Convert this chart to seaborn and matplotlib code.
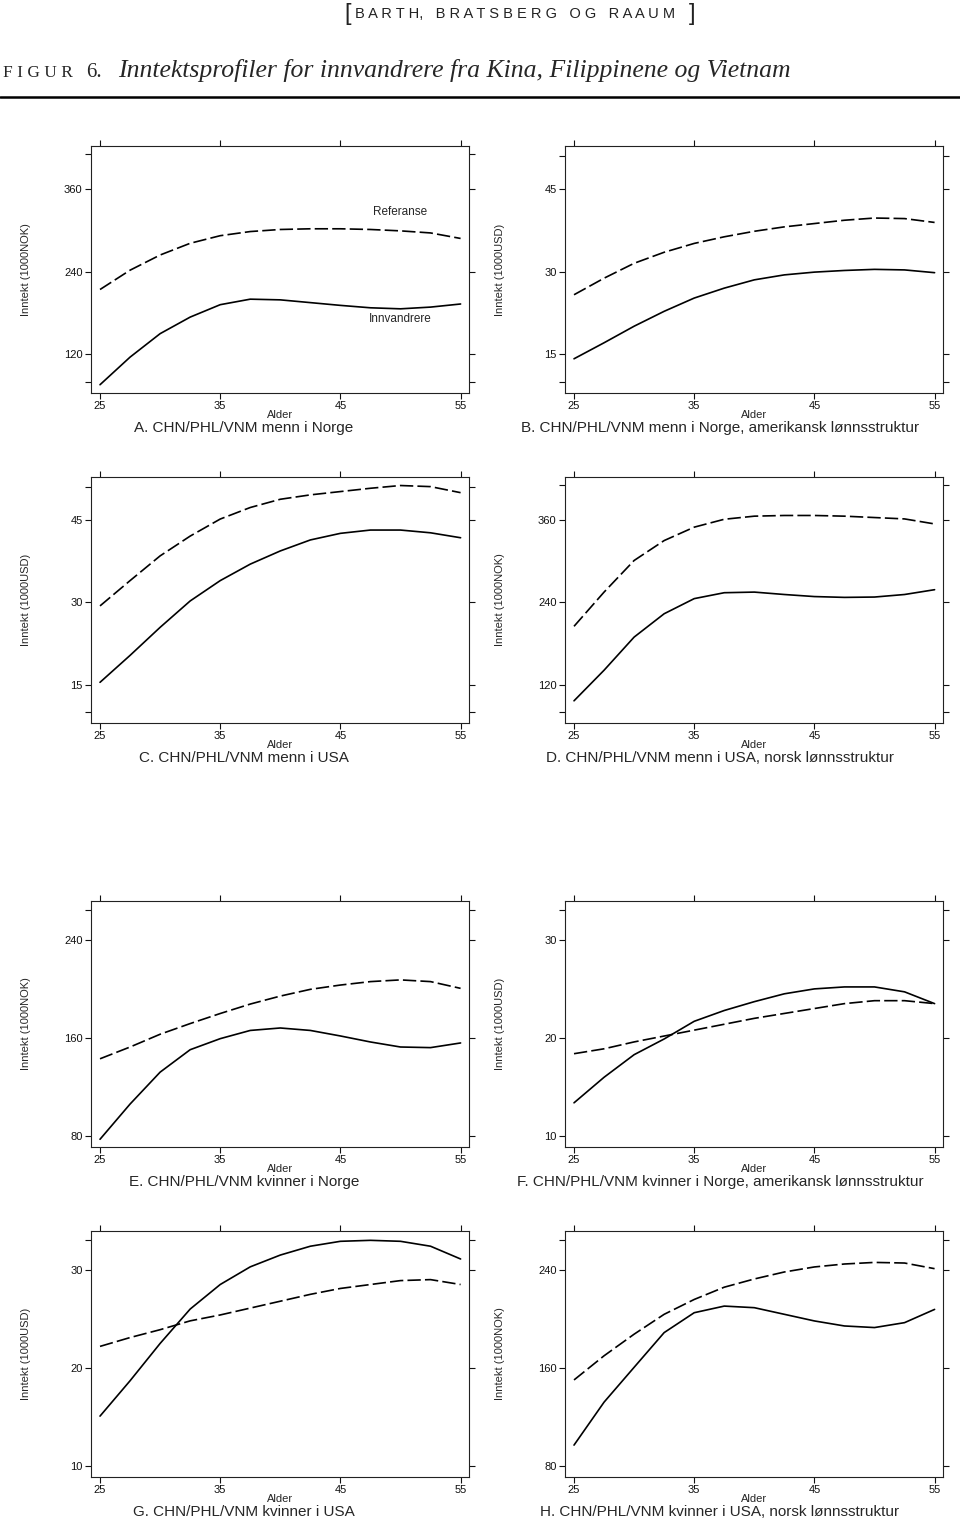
import matplotlib
matplotlib.use("Agg")
import matplotlib.pyplot as plt
from matplotlib.lines import Line2D
import pandas as pd
import seaborn as sns

sns.set_theme(style="ticks", rc={"axes.linewidth": 0.8, "axes.edgecolor": "#222222",
                                 "xtick.major.size": 4, "ytick.major.size": 4,
                                 "xtick.major.width": 0.8, "ytick.major.width": 0.8})
plt.rcParams['font.family'] = ['Liberation Sans', 'DejaVu Sans']

# ages (Alder)
ages = [25, 27.5, 30, 32.5, 35, 37.5, 40, 42.5, 45, 47.5, 50, 52.5, 55]

# referanse (dashed) and innvandrere (solid)
a_ref = [214, 242, 264, 281, 292, 298, 301, 302, 302, 301, 299, 296, 288]
a_imm = [76, 116, 150, 174, 192, 200, 199, 195, 191, 187.5, 186, 188.5, 193]
b_ref = [25.8, 28.8, 31.5, 33.5, 35.1, 36.3, 37.3, 38.1, 38.7, 39.3, 39.7, 39.6, 38.9]
b_imm = [14.2, 17.1, 20.1, 22.8, 25.2, 27.0, 28.5, 29.4, 29.9, 30.2, 30.4, 30.3, 29.8]
c_ref = [29.3, 33.9, 38.4, 42.0, 45.1, 47.2, 48.7, 49.5, 50.1, 50.7, 51.2, 51.0, 49.9]
c_imm = [15.4, 20.3, 25.4, 30.2, 33.9, 36.9, 39.3, 41.3, 42.5, 43.1, 43.1, 42.6, 41.7]
d_ref = [204.7, 254.5, 300.5, 329.5, 349, 360.5, 365, 366, 366, 365, 363, 361, 353.7]
d_imm = [96.3, 140.8, 189, 223, 245, 253.6, 254.5, 251, 248, 246.8, 247.3, 251, 258]
e_ref = [142.9, 152.5, 162.9, 171.6, 179.8, 187.5, 194, 199.5, 203, 205.8, 207.2, 205.8, 200.3]
e_imm = [77.3, 106, 132, 150.3, 159.3, 166, 168, 166, 161.5, 156.6, 152.5, 152, 155.8]
f_ref = [18.4, 18.9, 19.6, 20.2, 20.8, 21.4, 22.0, 22.5, 23.0, 23.5, 23.8, 23.8, 23.5]
f_imm = [13.4, 16.0, 18.3, 19.9, 21.7, 22.8, 23.7, 24.5, 25.0, 25.2, 25.2, 24.7, 23.5]
g_ref = [22.2, 23.1, 23.9, 24.8, 25.4, 26.1, 26.8, 27.5, 28.1, 28.5, 28.9, 29.0, 28.5]
g_imm = [15.1, 18.7, 22.5, 26.0, 28.5, 30.3, 31.5, 32.4, 32.9, 33.0, 32.9, 32.4, 31.1]
h_ref = [150.1, 169.8, 187.4, 203.6, 215.7, 225.7, 232.4, 238.1, 242.2, 244.6, 245.9, 245.4, 240.8]
h_imm = [97, 132, 160.4, 188.7, 204.9, 210.3, 209, 203.6, 198.2, 194.1, 192.8, 196.8, 207.6]

titles = ["A. CHN/PHL/VNM menn i Norge",
          "B. CHN/PHL/VNM menn i Norge, amerikansk lønnsstruktur",
          "C. CHN/PHL/VNM menn i USA",
          "D. CHN/PHL/VNM menn i USA, norsk lønnsstruktur",
          "E. CHN/PHL/VNM kvinner i Norge",
          "F. CHN/PHL/VNM kvinner i Norge, amerikansk lønnsstruktur",
          "G. CHN/PHL/VNM kvinner i USA",
          "H. CHN/PHL/VNM kvinner i USA, norsk lønnsstruktur"]
units = ["NOK", "USD", "USD", "NOK", "NOK", "USD", "USD", "NOK"]

x_ticks = [25, 35, 45, 55]
# upper rows (menn) and lower rows (kvinner) have different y scales
ticks_m = {"NOK": ([80, 120, 240, 360, 410], ["", "120", "240", "360", ""]),
           "USD": ([10, 15, 30, 45, 51], ["", "15", "30", "45", ""])}
ticks_k = {"NOK": ([80, 160, 240, 264], ["80", "160", "240", ""]),
           "USD": ([10, 20, 30, 33], ["10", "20", "30", ""])}
ylim_m = {"NOK": (64, 422), "USD": (8.0, 52.75)}
ylim_k = {"NOK": (71, 271.5), "USD": (8.9, 33.95)}

refs = [a_ref, b_ref, c_ref, d_ref, e_ref, f_ref, g_ref, h_ref]
imms = [a_imm, b_imm, c_imm, d_imm, e_imm, f_imm, g_imm, h_imm]

W, H = 960, 1520
fig = plt.figure(figsize=(W / 100, H / 100), dpi=100)

# axes boxes in pixels: left, right, top, bottom
cols = [(91, 469), (565, 943)]
rows = [(146, 393), (477, 723), (901, 1147), (1231, 1477)]
title_x = [244, 720]

for i in range(8):
    r, c = divmod(i, 2)
    l, rt = cols[c]
    t, b = rows[r]
    ax = fig.add_axes([l / W, 1 - b / H, (rt - l) / W, (b - t) / H])

    df = pd.DataFrame({
        "Alder": ages * 2,
        "Inntekt": refs[i] + imms[i],
        "serie": ["Referanse"] * len(ages) + ["Innvandrere"] * len(ages),
    })
    sns.lineplot(data=df, x="Alder", y="Inntekt", style="serie",
                 dashes={"Referanse": (8, 2.5), "Innvandrere": ""},
                 color="black", linewidth=1.2, legend=False, ax=ax)

    u = units[i]
    tk = ticks_m if r < 2 else ticks_k
    yl = ylim_m if r < 2 else ylim_k
    ax.set_xlim(24.25, 55.7)
    ax.set_ylim(*yl[u])
    ax.set_xticks(x_ticks)
    ax.set_yticks(tk[u][0])
    ax.set_yticklabels(tk[u][1])
    ax.tick_params(axis="both", which="both", direction="out", top=True, right=True,
                   labelsize=8, pad=2, colors="#111111")
    ax.set_xlabel("Alder", fontsize=8, labelpad=-1)
    ax.set_ylabel("Inntekt (1000" + u + ")", fontsize=8)
    ax.yaxis.set_label_coords(-0.16, 0.5)

    fig.text(title_x[c] / W, 1 - (b + 35) / H, titles[i], fontsize=11,
             ha="center", va="center")

    if i == 0:
        ax.text(50, 326, "Referanse", fontsize=8.5, ha="center", va="center")
        ax.text(50, 171, "Innvandrere", fontsize=8.5, ha="center", va="center")

# page header and figure caption
fig.text(344 / W, 1 - 14 / H, "[", fontsize=17, color="#222222", ha="left", va="center")
fig.text(695 / W, 1 - 14 / H, "]", fontsize=17, color="#222222", ha="right", va="center")
fig.text(515 / W, 1 - 14 / H, "B A R T H,   B R A T S B E R G   O G   R A A U M",
         fontsize=10.5, color="#222222", ha="center", va="center")
fig.text(3 / W, 1 - 77 / H, "F I G U R", fontsize=12.5, family="Liberation Serif",
         ha="left", va="baseline")
fig.text(86 / W, 1 - 77 / H, "6.", fontsize=15, family="Liberation Serif",
         ha="left", va="baseline")
fig.text(118 / W, 1 - 77 / H,
         "Inntektsprofiler for innvandrere fra Kina, Filippinene og Vietnam",
         fontsize=18.5, family="Liberation Serif", style="italic", ha="left", va="baseline")
fig.add_artist(Line2D([0, 1], [1 - 97 / H] * 2, color="black", linewidth=1.8))

fig.savefig("out.png", dpi=100)
